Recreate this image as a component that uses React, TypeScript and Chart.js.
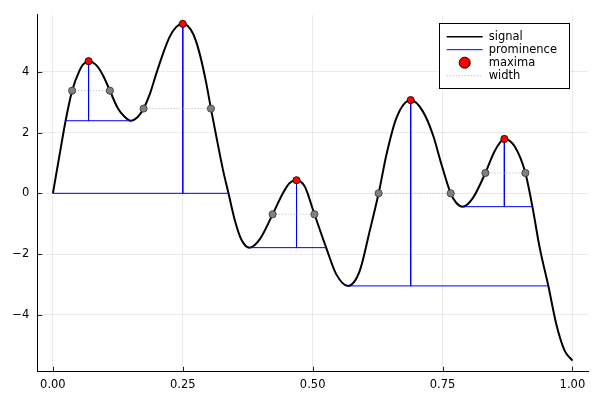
import React, { useEffect, useRef } from 'react';
import { Chart, registerables } from 'chart.js';

Chart.register(...registerables);

// ---- data ----
const signalX = [0, 0.012, 0.0245, 0.037, 0.0514, 0.0578, 0.0687, 0.0835, 0.0963, 0.1097, 0.125, 0.138, 0.1496, 0.1637, 0.1746, 0.186, 0.199, 0.212, 0.2247, 0.2376, 0.25, 0.2696, 0.2825, 0.2953, 0.3042, 0.3146, 0.3273, 0.338, 0.3498, 0.3627, 0.3787, 0.398, 0.423, 0.443, 0.4557, 0.469, 0.4846, 0.5035, 0.526, 0.5456, 0.568, 0.5905, 0.6097, 0.627, 0.642, 0.661, 0.6887, 0.7124, 0.7316, 0.748, 0.7657, 0.7767, 0.789, 0.8086, 0.8325, 0.85, 0.869, 0.889, 0.9095, 0.923, 0.937, 0.9538, 0.969, 0.985, 1.0];
const signalY = [0, 1.18, 2.39, 3.38, 4.05, 4.24, 4.35, 4.22, 3.89, 3.38, 2.8, 2.52, 2.39, 2.52, 2.79, 3.24, 3.94, 4.6, 5.15, 5.48, 5.58, 5.26, 4.6, 3.62, 2.79, 1.87, 0.78, 0, -0.86, -1.52, -1.79, -1.52, -0.69, 0.01, 0.34, 0.43, 0.23, -0.69, -1.79, -2.67, -3.05, -2.56, -1.25, 0, 1.27, 2.47, 3.07, 2.69, 1.92, 0.95, 0, -0.32, -0.44, -0.15, 0.67, 1.38, 1.79, 1.54, 0.67, -0.44, -1.79, -3.06, -4.31, -5.18, -5.51];

const peakX = [0.0687, 0.25, 0.469, 0.6887, 0.869];
const peakY = [4.35, 5.58, 0.43, 3.07, 1.79];

const promBase = [2.39, 0, -1.79, -3.05, -0.44];
const promLeft = [0.0245, 0, 0.3787, 0.568, 0.789];
const promRight = [0.1496, 0.338, 0.526, 0.9538, 0.923];

const widthY = [3.38, 2.79, -0.69, 0.0, 0.67];
const widthLeft = [0.037, 0.1746, 0.423, 0.627, 0.8325];
const widthRight = [0.1097, 0.3042, 0.5035, 0.7657, 0.9095];

const xTicks = [0, 0.25, 0.5, 0.75, 1];
const yTicks = [-4, -2, 0, 2, 4];
const legendLabels = ['signal', 'prominence', 'maxima', 'width'];

const FONT = '"DejaVu Sans", sans-serif';

export default function App() {
  const ref = useRef<HTMLCanvasElement>(null);

  useEffect(() => {
    if (!ref.current) return;

    const signal = signalX.map((x, i) => ({ x, y: signalY[i] }));
    const maxima = peakX.map((x, i) => ({ x, y: peakY[i] }));
    const prom: any[] = [];
    peakX.forEach((x, i) => {
      prom.push({ x, y: peakY[i] }, { x, y: promBase[i] }, { x, y: null });
      prom.push({ x: promLeft[i], y: promBase[i] }, { x: promRight[i], y: promBase[i] }, { x: promRight[i], y: null });
    });
    const width: any[] = [];
    widthY.forEach((y, i) => {
      width.push({ x: widthLeft[i], y }, { x: widthRight[i], y }, { x: widthRight[i], y: null });
    });

    const tickPlugin = {
      id: 'innerTicks',
      afterDatasetsDraw(chart: any) {
        const { ctx, chartArea, scales } = chart;
        ctx.save();
        ctx.strokeStyle = '#222';
        ctx.lineWidth = 1;
        xTicks.forEach((v) => {
          const px = Math.round(scales.x.getPixelForValue(v)) + 0.5;
          ctx.beginPath();
          ctx.moveTo(px, chartArea.bottom);
          ctx.lineTo(px, chartArea.bottom - 5);
          ctx.stroke();
        });
        yTicks.forEach((v) => {
          const py = Math.round(scales.y.getPixelForValue(v)) + 0.5;
          ctx.beginPath();
          ctx.moveTo(chartArea.left, py);
          ctx.lineTo(chartArea.left + 5, py);
          ctx.stroke();
        });
        ctx.restore();
      },
    };

    const legendPlugin = {
      id: 'customLegend',
      afterDraw(chart: any) {
        const ctx = chart.ctx;
        ctx.save();
        const bx = 439.5, by = 23.5, bw = 130, bh = 65;
        ctx.fillStyle = '#fff';
        ctx.fillRect(bx, by, bw, bh);
        ctx.strokeStyle = '#000';
        ctx.lineWidth = 1;
        ctx.strokeRect(bx, by, bw, bh);
        const rows = [36.7, 49.7, 62.7, 75.7];
        const sx0 = 446.7, sx1 = 482.7;
        ctx.strokeStyle = '#000';
        ctx.lineWidth = 1.5;
        ctx.beginPath(); ctx.moveTo(sx0, rows[0]); ctx.lineTo(sx1, rows[0]); ctx.stroke();
        ctx.strokeStyle = '#0000ff';
        ctx.lineWidth = 1;
        ctx.beginPath(); ctx.moveTo(sx0, rows[1]); ctx.lineTo(sx1, rows[1]); ctx.stroke();
        ctx.fillStyle = '#ff0000';
        ctx.strokeStyle = '#000';
        ctx.lineWidth = 1;
        ctx.beginPath(); ctx.arc((sx0 + sx1) / 2, rows[2], 5.5, 0, Math.PI * 2); ctx.fill(); ctx.stroke();
        ctx.strokeStyle = '#aaaaaa';
        ctx.lineWidth = 1;
        ctx.setLineDash([1, 2]);
        ctx.beginPath(); ctx.moveTo(sx0, rows[3]); ctx.lineTo(sx1, rows[3]); ctx.stroke();
        ctx.setLineDash([]);
        ctx.fillStyle = '#000';
        ctx.font = `11.5px ${FONT}`;
        ctx.textBaseline = 'middle';
        ctx.textAlign = 'left';
        legendLabels.forEach((t, i) => ctx.fillText(t, 488.7, rows[i]));
        ctx.restore();
      },
    };

    const chart = new Chart(ref.current, {
      type: 'line',
      data: {
        datasets: [
          {
            label: 'maxima',
            data: maxima,
            showLine: false,
            pointRadius: 3.6,
            pointBackgroundColor: '#ff0000',
            pointBorderColor: '#000',
            pointBorderWidth: 0.8,
            order: 0,
          } as any,
          {
            label: 'width',
            data: width,
            borderColor: '#b4b4b4',
            borderWidth: 1,
            borderDash: [1, 2],
            pointRadius: 3.6,
            pointBackgroundColor: '#808080',
            pointBorderColor: '#333',
            pointBorderWidth: 0.8,
            spanGaps: false,
            tension: 0,
            order: 1,
          },
          {
            label: 'prominence',
            data: prom,
            borderColor: '#0000ff',
            borderWidth: 1,
            pointRadius: 0,
            spanGaps: false,
            tension: 0,
            order: 2,
          },
          {
            label: 'signal',
            data: signal,
            borderColor: '#000',
            borderWidth: 2,
            pointRadius: 0,
            cubicInterpolationMode: 'monotone',
            order: 3,
          },
        ],
      },
      options: {
        animation: false,
        responsive: false,
        layout: { padding: { left: 0, top: 12.3, right: 12, bottom: 0 } },
        plugins: { legend: { display: false }, tooltip: { enabled: false } },
        scales: {
          x: {
            type: 'linear',
            min: -0.03,
            max: 1.03,
            afterBuildTicks: (s: any) => { s.ticks = xTicks.map((v) => ({ value: v })); },
            afterFit: (s: any) => { s.height = 28.3; },
            grid: { color: 'rgba(0,0,0,0.08)', lineWidth: 1, drawTicks: false },
            border: { display: true, color: '#000', width: 1 },
            ticks: {
              padding: 6,
              color: '#000',
              font: { family: FONT, size: 11.5 },
              maxRotation: 0,
              callback: (v: any) => Number(v).toFixed(2),
            },
          },
          y: {
            type: 'linear',
            min: -5.875,
            max: 5.875,
            afterBuildTicks: (s: any) => { s.ticks = yTicks.map((v) => ({ value: v })); },
            afterFit: (s: any) => { s.width = 37.3; },
            grid: { color: 'rgba(0,0,0,0.08)', lineWidth: 1, drawTicks: false },
            border: { display: true, color: '#000', width: 1 },
            ticks: {
              padding: 8,
              color: '#000',
              font: { family: FONT, size: 11.5 },
              callback: (v: any) => (v < 0 ? '\u2212' + Math.abs(v) : String(v)),
            },
          },
        },
      },
      plugins: [tickPlugin, legendPlugin],
    });
    return () => chart.destroy();
  }, []);

  return (
    <div style={{ position: 'fixed', left: 0, top: 0, width: 600, height: 400, background: '#fff' }}>
      <canvas ref={ref} width={600} height={400} style={{ width: 600, height: 400 }} />
    </div>
  );
}
